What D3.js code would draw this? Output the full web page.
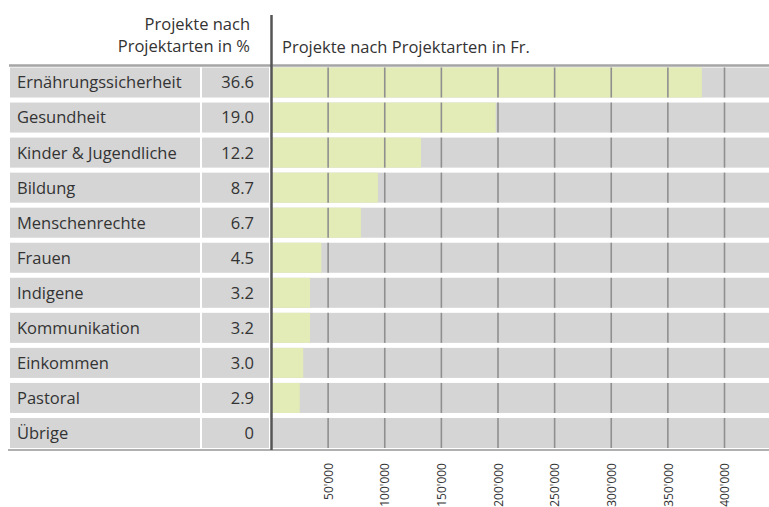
<!DOCTYPE html>
<html>
<head>
<meta charset="utf-8">
<script src="https://cdn.jsdelivr.net/npm/d3@7"></script>
<style>
  body { margin: 0; background: #fff; }
  svg { display: block; font-family: "Open Sans", "Noto Sans", sans-serif; }
</style>
</head>
<body>
<svg id="chart" width="769" height="507"></svg>
<script>
// Projektarten
var categories = ['Ernährungssicherheit', 'Gesundheit', 'Kinder & Jugendliche', 'Bildung',
  'Menschenrechte', 'Frauen', 'Indigene', 'Kommunikation', 'Einkommen', 'Pastoral', 'Übrige'];
// Anteil in %
var percents = [36.6, 19.0, 12.2, 8.7, 6.7, 4.5, 3.2, 3.2, 3.0, 2.9, 0];
// Betrag in Fr.
var amounts = [380000, 198000, 132000, 94000, 79000, 44000, 34000, 34000, 28000, 25000, 0];
var tickValues = [50000, 100000, 150000, 200000, 250000, 300000, 350000, 400000];

var W = 769, H = 507;
var textColor = '#333';
var cellGray = '#d5d5d5';
var barGreen = '#e3ebb6';
var fontSize = '16.5px';

var svg = d3.select('#chart');

var rows = categories.map(function(c, i) {
  return {name: c, pct: percents[i], amount: amounts[i]};
});

var x = d3.scaleLinear().domain([0, 400000]).range([271.5, 724.5]);
var y = d3.scaleBand().domain(categories).range([67.5, 448]).paddingInner(0.143);

var ch = d3.formatLocale({decimal: '.', thousands: "'", grouping: [3], currency: ['', '']});
var fmtFr = ch.format(',');
var fmtPct = function(d) { return d === 0 ? '0' : d3.format('.1f')(d); };

// header
var head = svg.append('g').attr('fill', textColor).style('font-size', fontSize);
head.append('text').attr('x', 250).attr('y', 30).attr('text-anchor', 'end').text('Projekte nach');
head.append('text').attr('x', 250).attr('y', 52).attr('text-anchor', 'end').text('Projektarten in %');
head.append('text').attr('x', 282).attr('y', 53).text('Projekte nach Projektarten in Fr.');

// rows
var g = svg.append('g');
var row = g.selectAll('g.row').data(rows).enter().append('g')
  .classed('row', true)
  .attr('transform', function(d) { return 'translate(0,' + y(d.name) + ')'; });

row.append('rect').attr('x', 10).attr('width', 190).attr('height', y.bandwidth()).attr('fill', cellGray);
row.append('rect').attr('x', 202).attr('width', 67).attr('height', y.bandwidth()).attr('fill', cellGray);
row.append('rect').attr('x', x(0)).attr('width', W - x(0)).attr('height', y.bandwidth()).attr('fill', cellGray);
row.append('rect').attr('x', x(0))
  .attr('width', function(d) { return x(d.amount) - x(0); })
  .attr('height', y.bandwidth()).attr('fill', barGreen);

row.selectAll('line.grid').data(tickValues).enter().append('line')
  .classed('grid', true)
  .attr('x1', function(d) { return x(d); }).attr('x2', function(d) { return x(d); })
  .attr('y1', 0).attr('y2', y.bandwidth())
  .attr('stroke', '#8f8f8f').attr('stroke-width', 1.6);

row.append('text').attr('x', 17).attr('y', y.bandwidth() / 2).attr('dy', '0.36em')
  .attr('fill', textColor).style('font-size', fontSize)
  .text(function(d) { return d.name; });
row.append('text').attr('x', 254).attr('y', y.bandwidth() / 2).attr('dy', '0.36em')
  .attr('text-anchor', 'end').attr('fill', textColor).style('font-size', fontSize)
  .text(function(d) { return fmtPct(d.pct); });

// borders
svg.append('line').attr('x1', 9).attr('x2', W).attr('y1', 65.5).attr('y2', 65.5)
  .attr('stroke', '#a5a5a5').attr('stroke-width', 2.5);
svg.append('line').attr('x1', 8).attr('x2', W).attr('y1', 450).attr('y2', 450)
  .attr('stroke', '#b0b0b0').attr('stroke-width', 2);
svg.append('line').attr('x1', x(0)).attr('x2', x(0)).attr('y1', 15).attr('y2', 450)
  .attr('stroke', '#555').attr('stroke-width', 2.5);

// axis labels
var xAxis = d3.axisBottom(x).tickValues(tickValues).tickFormat(fmtFr).tickSize(0);
var ax = svg.append('g').attr('transform', 'translate(0,458)').call(xAxis);
ax.select('.domain').remove();
ax.selectAll('text')
  .attr('transform', 'rotate(-90)')
  .attr('x', -5).attr('y', 0).attr('dy', '0.35em')
  .attr('text-anchor', 'end')
  .attr('fill', textColor)
  .style('font-family', '"Open Sans", sans-serif')
  .style('font-size', '12px');
</script>
</body>
</html>
